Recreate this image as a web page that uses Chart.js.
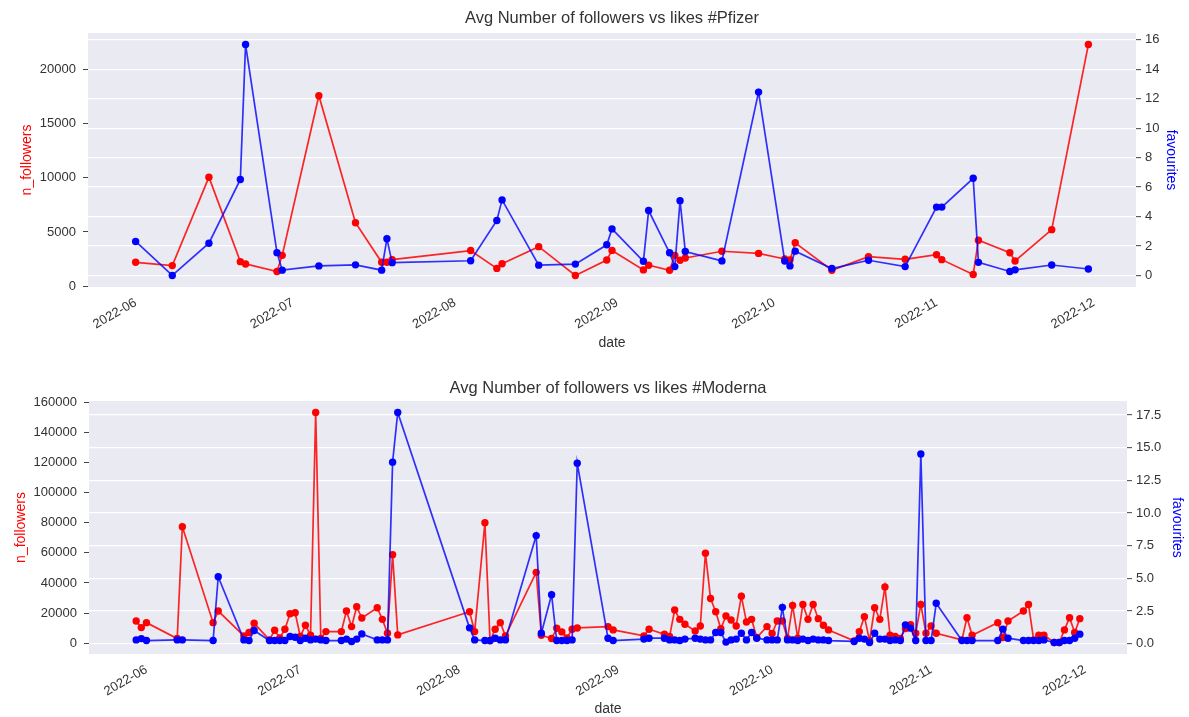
<!DOCTYPE html>
<html>
<head>
<meta charset="utf-8">
<script src="https://cdn.jsdelivr.net/npm/chart.js@4.4.1/dist/chart.umd.min.js"></script>
<style>
    html, body { margin: 0; padding: 0; background: #fff; }
    #wrap { position: relative; width: 1189px; height: 717px; }
    canvas { position: absolute; left: 0; }
    #pfizerChart { top: 0; }
    #modernaChart { top: 358px; }
</style>
</head>
<body>
<div id="wrap">
    <canvas id="pfizerChart" width="1189" height="358"></canvas>
    <canvas id="modernaChart" width="1189" height="359"></canvas>
</div>
<script>
// #Pfizer
const pfizerDates = [
    '2022-06-01', '2022-06-08', '2022-06-15', '2022-06-21', '2022-06-22', '2022-06-28', '2022-06-29', '2022-07-06',
    '2022-07-13', '2022-07-18', '2022-07-19', '2022-07-20', '2022-08-04', '2022-08-09', '2022-08-10', '2022-08-17',
    '2022-08-24', '2022-08-30', '2022-08-31', '2022-09-06', '2022-09-07', '2022-09-11', '2022-09-12', '2022-09-13',
    '2022-09-14', '2022-09-21', '2022-09-28', '2022-10-03', '2022-10-04', '2022-10-05', '2022-10-12', '2022-10-19',
    '2022-10-26', '2022-11-01', '2022-11-02', '2022-11-08', '2022-11-09', '2022-11-15', '2022-11-16', '2022-11-23',
    '2022-11-30'
];
const pfizerFollowers = [
    2195, 1890, 10060, 2256, 2043, 1341, 2835, 17590,
    5854, 2195, 2195, 2439, 3280, 1630, 2060, 3640,
    978, 2405, 3293, 1490, 1920, 1463, 2835, 2378,
    2588, 3215, 3018, 2500, 2408, 3994, 1463, 2713,
    2469, 2896, 2438, 1067, 4237, 3079, 2317, 5213,
    22320
];
const pfizerFavourites = [
    2.31, 0.0, 2.19, 6.52, 15.68, 1.55, 0.36, 0.65,
    0.72, 0.36, 2.49, 0.87, 1.0, 3.73, 5.13, 0.7,
    0.77, 2.08, 3.16, 0.96, 4.41, 1.54, 0.6, 5.08,
    1.63, 0.99, 12.45, 0.98, 0.65, 1.65, 0.47, 1.03,
    0.6, 4.64, 4.64, 6.6, 0.89, 0.27, 0.38, 0.71,
    0.44
];

// #Moderna
const modernaDates = [
    '2022-05-30', '2022-05-31', '2022-06-01', '2022-06-07', '2022-06-08', '2022-06-14', '2022-06-15', '2022-06-20', '2022-06-21', '2022-06-22',
    '2022-06-25', '2022-06-26', '2022-06-27', '2022-06-28', '2022-06-29', '2022-06-30', '2022-07-01', '2022-07-02', '2022-07-03', '2022-07-04',
    '2022-07-05', '2022-07-06', '2022-07-09', '2022-07-10', '2022-07-11', '2022-07-12', '2022-07-13', '2022-07-16', '2022-07-17', '2022-07-18',
    '2022-07-19', '2022-07-20', '2022-08-03', '2022-08-04', '2022-08-06', '2022-08-07', '2022-08-08', '2022-08-09', '2022-08-10', '2022-08-16',
    '2022-08-17', '2022-08-19', '2022-08-20', '2022-08-21', '2022-08-22', '2022-08-23', '2022-08-24', '2022-08-30', '2022-08-31', '2022-09-06',
    '2022-09-07', '2022-09-10', '2022-09-11', '2022-09-12', '2022-09-13', '2022-09-14', '2022-09-16', '2022-09-17', '2022-09-18', '2022-09-19',
    '2022-09-20', '2022-09-21', '2022-09-22', '2022-09-23', '2022-09-24', '2022-09-25', '2022-09-26', '2022-09-27', '2022-09-28', '2022-09-30',
    '2022-10-01', '2022-10-02', '2022-10-03', '2022-10-04', '2022-10-05', '2022-10-06', '2022-10-07', '2022-10-08', '2022-10-09', '2022-10-10',
    '2022-10-11', '2022-10-12', '2022-10-17', '2022-10-18', '2022-10-19', '2022-10-20', '2022-10-21', '2022-10-22', '2022-10-23', '2022-10-24',
    '2022-10-25', '2022-10-26', '2022-10-27', '2022-10-28', '2022-10-29', '2022-10-30', '2022-10-31', '2022-11-01', '2022-11-02', '2022-11-07',
    '2022-11-08', '2022-11-09', '2022-11-14', '2022-11-15', '2022-11-16', '2022-11-19', '2022-11-20', '2022-11-21', '2022-11-22', '2022-11-23',
    '2022-11-25', '2022-11-26', '2022-11-27', '2022-11-28', '2022-11-29', '2022-11-30'
];
const modernaFollowers = [
    14740, 10340, 13640, 3080, 77440, 13640, 21340, 4840, 7040, 13200,
    2200, 8580, 3520, 9240, 19580, 20240, 4400, 11880, 5280, 153340,
    3080, 7700, 7700, 21340, 11000, 24200, 16720, 23540, 15840, 6600,
    58740, 5500, 20900, 7700, 80080, 1540, 9240, 13640, 4840, 47080,
    5280, 3080, 9900, 7480, 3520, 9240, 10120, 11000, 8800, 4840,
    9240, 5940, 4400, 22000, 15840, 12540, 8140, 11440, 59840, 29700,
    20900, 9680, 18040, 15400, 11440, 31240, 14080, 15840, 3740, 11000,
    6380, 14740, 14740, 3080, 25080, 3300, 25740, 15840, 25740, 16280,
    11880, 8800, 1540, 7700, 17600, 1540, 23540, 15840, 37400, 5280,
    4400, 3080, 9680, 12320, 6600, 25740, 6600, 11440, 6600, 2200,
    16940, 5280, 13640, 3740, 14740, 21340, 25740, 2200, 5280, 5280,
    440, 440, 8800, 16940, 7040, 16280
];
const modernaFavourites = [
    0.30, 0.40, 0.25, 0.30, 0.30, 0.25, 5.13, 0.30, 0.25, 1.02,
    0.25, 0.25, 0.25, 0.25, 0.56, 0.50, 0.25, 0.43, 0.30, 0.36,
    0.30, 0.25, 0.25, 0.36, 0.18, 0.36, 0.76, 0.30, 0.30, 0.30,
    13.9, 17.7, 1.22, 0.30, 0.25, 0.25, 0.43, 0.30, 0.30, 8.28,
    0.81, 3.76, 0.25, 0.25, 0.25, 0.30, 13.82, 0.43, 0.25, 0.36,
    0.43, 0.43, 0.30, 0.30, 0.25, 0.36, 0.43, 0.36, 0.30, 0.30,
    0.86, 0.86, 0.13, 0.30, 0.36, 0.81, 0.30, 0.86, 0.43, 0.30,
    0.30, 0.30, 2.79, 0.30, 0.30, 0.25, 0.36, 0.25, 0.36, 0.30,
    0.30, 0.25, 0.18, 0.43, 0.36, 0.10, 0.81, 0.36, 0.36, 0.25,
    0.30, 0.25, 1.45, 1.20, 0.25, 14.53, 0.25, 0.25, 3.10, 0.25,
    0.25, 0.25, 0.25, 1.12, 0.43, 0.25, 0.25, 0.25, 0.25, 0.30,
    0.10, 0.10, 0.25, 0.25, 0.43, 0.74
];

// Tick labels
const monthTicks = ['2022-06-01', '2022-07-01', '2022-08-01', '2022-09-01', '2022-10-01', '2022-11-01', '2022-12-01'];
const pfizerFollowerTicks = [0, 5000, 10000, 15000, 20000];
const pfizerFavouriteTicks = [0, 2, 4, 6, 8, 10, 12, 14, 16];
const modernaFollowerTicks = [0, 20000, 40000, 60000, 80000, 100000, 120000, 140000, 160000];
const modernaFavouriteTicks = [0, 2.5, 5, 7.5, 10, 12.5, 15, 17.5];

const FONT = "'Liberation Sans', Arial, sans-serif";
const TEXT = '#333';
const TICK_MARK = '#444';

const toTime = d => Date.parse(d + 'T00:00:00Z');

// matplotlib-like 5% margins around the data
function padded(values) {
    const lo = Math.min(...values);
    const hi = Math.max(...values);
    const m = (hi - lo) * 0.05;
    return { min: lo - m, max: hi + m };
}

// grey plot background
const plotBackground = {
    id: 'plotBackground',
    beforeDraw(chart) {
        const { ctx, chartArea } = chart;
        ctx.save();
        ctx.fillStyle = '#EAEAF2';
        ctx.fillRect(chartArea.left, chartArea.top, chartArea.right - chartArea.left, chartArea.bottom - chartArea.top);
        ctx.restore();
    }
};

function buildChart(canvasId, spec) {
    const xs = spec.dates.map(toTime);
    const xRange = padded(xs);
    const leftRange = padded(spec.followers);
    const rightRange = padded(spec.favourites);
    const tickFont = { family: FONT, size: 13 };
    const labelFont = { family: FONT, size: 14 };

    return new Chart(document.getElementById(canvasId), {
        type: 'line',
        data: {
            datasets: [
                {
                    label: 'favourites',
                    data: xs.map((x, i) => ({ x, y: spec.favourites[i] })),
                    yAxisID: 'y1',
                    borderColor: 'rgba(0, 0, 255, 0.8)',
                    backgroundColor: '#0000ff',
                    pointBackgroundColor: '#0000ff',
                    borderWidth: 1.7,
                    pointRadius: 3.7,
                    pointBorderWidth: 0,
                    order: 0
                },
                {
                    label: 'n_followers',
                    data: xs.map((x, i) => ({ x, y: spec.followers[i] })),
                    yAxisID: 'y',
                    borderColor: 'rgba(255, 0, 0, 0.85)',
                    backgroundColor: '#ff0000',
                    pointBackgroundColor: '#ff0000',
                    borderWidth: 1.7,
                    pointRadius: 3.7,
                    pointBorderWidth: 0,
                    order: 1
                }
            ]
        },
        options: {
            responsive: false,
            animation: false,
            devicePixelRatio: 1,
            layout: { padding: 0 },
            plugins: {
                legend: { display: false },
                tooltip: { enabled: false },
                title: {
                    display: true,
                    fullSize: false,
                    text: spec.title,
                    color: TEXT,
                    font: { family: FONT, size: 16.5, weight: 'normal' },
                    padding: spec.titlePad
                }
            },
            scales: {
                x: {
                    type: 'linear',
                    min: xRange.min,
                    max: xRange.max,
                    afterBuildTicks: (scale) => {
                        scale.ticks = monthTicks.map(d => ({ value: toTime(d) }));
                    },
                    afterFit: (scale) => { scale.height = spec.xHeight; },
                    ticks: {
                        color: TEXT,
                        font: tickFont,
                        padding: 8,
                        autoSkip: false,
                        minRotation: 30,
                        maxRotation: 30,
                        callback: (value) => new Date(value).toISOString().slice(0, 7)
                    },
                    grid: { display: false, drawTicks: false },
                    border: { display: false },
                    title: {
                        display: true,
                        text: 'date',
                        color: TEXT,
                        font: labelFont,
                        padding: { top: 0, bottom: spec.xTitlePad }
                    }
                },
                y: {
                    type: 'linear',
                    position: 'left',
                    min: leftRange.min,
                    max: leftRange.max,
                    afterBuildTicks: (scale) => {
                        scale.ticks = spec.leftTicks.map(v => ({ value: v }));
                    },
                    afterFit: (scale) => { scale.width = spec.leftWidth; },
                    ticks: {
                        color: TEXT,
                        font: tickFont,
                        padding: 7,
                        callback: (value) => String(value)
                    },
                    grid: {
                        drawOnChartArea: false,
                        drawTicks: true,
                        tickLength: 5,
                        tickColor: TICK_MARK,
                        tickWidth: 1
                    },
                    border: { display: false },
                    title: {
                        display: true,
                        text: 'n_followers',
                        color: '#ff0000',
                        font: labelFont,
                        padding: { top: spec.leftTitlePad, bottom: 0 }
                    }
                },
                y1: {
                    type: 'linear',
                    position: 'right',
                    min: rightRange.min,
                    max: rightRange.max,
                    afterBuildTicks: (scale) => {
                        scale.ticks = spec.rightTicks.map(v => ({ value: v }));
                    },
                    afterFit: (scale) => { scale.width = spec.rightWidth; },
                    ticks: {
                        color: TEXT,
                        font: tickFont,
                        padding: 4,
                        callback: (value) => spec.rightDecimals ? value.toFixed(1) : String(value)
                    },
                    grid: {
                        color: '#ffffff',
                        lineWidth: 1.3,
                        drawTicks: true,
                        tickLength: 5,
                        tickColor: TICK_MARK,
                        tickWidth: 1
                    },
                    border: { display: false },
                    title: {
                        display: true,
                        text: 'favourites',
                        color: '#0000ff',
                        font: labelFont,
                        padding: { top: spec.rightTitlePad, bottom: 0 }
                    }
                }
            }
        },
        plugins: [plotBackground]
    });
}

const pfizerChart = buildChart('pfizerChart', {
    title: 'Avg Number of followers vs likes #Pfizer',
    dates: pfizerDates,
    followers: pfizerFollowers,
    favourites: pfizerFavourites,
    leftTicks: pfizerFollowerTicks,
    rightTicks: pfizerFavouriteTicks,
    rightDecimals: false,
    titlePad: { top: 9, bottom: 4.2 },
    leftWidth: 88,
    rightWidth: 53,
    xHeight: 71,
    leftTitlePad: 18.6,
    rightTitlePad: 9.6,
    xTitlePad: 6.6
});

const modernaChart = buildChart('modernaChart', {
    title: 'Avg Number of followers vs likes #Moderna',
    dates: modernaDates,
    followers: modernaFollowers,
    favourites: modernaFavourites,
    leftTicks: modernaFollowerTicks,
    rightTicks: modernaFavouriteTicks,
    rightDecimals: true,
    titlePad: { top: 21, bottom: 2.2 },
    leftWidth: 89,
    rightWidth: 62,
    xHeight: 63,
    leftTitlePad: 12.6,
    rightTitlePad: 3.9,
    xTitlePad: -1
});
</script>
</body>
</html>
